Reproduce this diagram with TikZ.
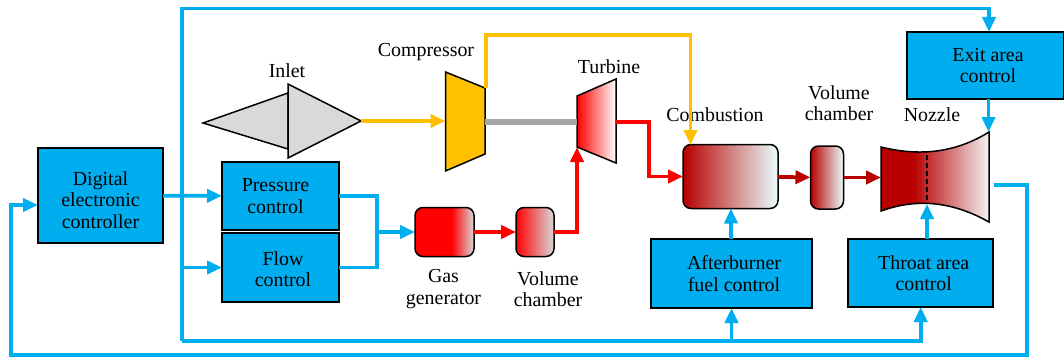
\documentclass[tikz,border=0pt]{standalone}
\usepackage{fontspec}
\setmainfont{Liberation Serif}
\usepackage{xcolor}
\usetikzlibrary{arrows.meta,calc,positioning}

\definecolor{ctrlblue}{HTML}{00AEEF}
\definecolor{airyellow}{HTML}{FFC000}
\definecolor{hotred}{HTML}{FF0000}
\definecolor{darkred}{HTML}{B80000}
\definecolor{shaftgray}{HTML}{A6A6A6}
\definecolor{inletgray}{HTML}{D9D9D9}

\pgfdeclarehorizontalshading{gasfade}{100bp}{color(0bp)=(hotred); color(25bp)=(hotred); color(56bp)=(hotred); color(75bp)=(inletgray); color(100bp)=(inletgray)}
\pgfdeclarehorizontalshading{chamberfade}{100bp}{color(0bp)=(hotred); color(25bp)=(hotred); color(75bp)=(inletgray); color(100bp)=(inletgray)}
\pgfdeclarehorizontalshading{turbinefade}{100bp}{color(0bp)=(hotred); color(25bp)=(hotred); color(75bp)=(white); color(100bp)=(white)}
\pgfdeclarehorizontalshading{burnfade}{100bp}{color(0bp)=(darkred); color(25bp)=(darkred); color(75bp)=(black!3!cyan!8!white); color(100bp)=(black!3!cyan!8!white)}
\pgfdeclarehorizontalshading{nozzlefade}{100bp}{color(0bp)=(darkred); color(25bp)=(darkred); color(40bp)=(darkred); color(75bp)=(black!5!white); color(100bp)=(black!5!white)}

\tikzset{
  ctrlbox/.style={draw=black, line width=1.5pt, fill=ctrlblue, align=center, inner sep=0pt, outer sep=0pt},
  vessel/.style={draw=black, line width=1.5pt, rounded corners=8pt, inner sep=0pt, outer sep=0pt},
  part/.style={draw=black, line width=1.5pt, line join=miter},
  caption/.style={align=center, inner sep=0pt},
  flowtip/.style={-{Triangle[length=15pt,width=13pt]}},
  ctrlline/.style={draw=ctrlblue, line width=3.8pt},
  airline/.style={draw=airyellow, line width=3.8pt},
  hotline/.style={draw=hotred, line width=3.8pt},
  burnline/.style={draw=darkred, line width=3.8pt},
  every node/.append style={font=\fontsize{19.9}{21.5}\selectfont}
}

\begin{document}
\begin{tikzpicture}[x=1pt, y=-1pt]
  \useasboundingbox (0,0) rectangle (1064,361);

  % control boxes
  \node[ctrlbox, minimum width=125pt, minimum height=95pt] (digital) at (100.5,195.5) {\rule{0pt}{23pt}Digital\\electronic\\controller};
  \node[ctrlbox, minimum width=117pt, minimum height=68pt] (pressure) at (280.5,196) {\hspace*{-10pt}Pressure\\\hspace*{-10pt}control};
  \node[ctrlbox, minimum width=117pt, minimum height=69pt] (flow) at (280.5,267.5) {\rule{0pt}{17pt}\hspace*{5pt}Flow\\\hspace*{5pt}control};
  \node[ctrlbox, minimum width=157pt, minimum height=67pt] (exitarea) at (985.5,65.5) {\hspace*{5pt}Exit area\\\hspace*{5pt}control};
  \node[ctrlbox, minimum width=161pt, minimum height=69pt] (afterburner) at (731.5,273.5) {\hspace*{5pt}Afterburner\\\hspace*{5pt}fuel control};
  \node[ctrlbox, minimum width=145pt, minimum height=68pt] (throat) at (920.7,273) {\hspace*{6pt}Throat area\\\hspace*{6pt}control};

  % vessels
  \node[vessel, shading=gasfade, minimum width=59pt, minimum height=49pt] (gasgen) at (444.5,232) {};
  \node[vessel, shading=chamberfade, minimum width=38pt, minimum height=49pt] (volumeA) at (535,232) {};
  \node[vessel, shading=burnfade, minimum width=95pt, minimum height=64pt] (combustion) at (730.5,176.5) {};
  \node[vessel, shading=burnfade, minimum width=33pt, minimum height=63pt] (volumeB) at (827,177.5) {};

  % inlet cones
  \draw[part, fill=inletgray] (203,123) -- (288,93) -- (288,149) -- cycle;
  \draw[part, fill=inletgray] (288,84) -- (361,121) -- (288,158) -- cycle;

  % compressor, turbine, nozzle
  \draw[part, fill=airyellow] (445.5,72) -- (485,88) -- (485,154) -- (445.5,171) -- cycle;
  \draw[part, shading=turbinefade] (577,96) -- (616,79) -- (616,163) -- (577,147) -- cycle;
  \draw[part, shading=nozzlefade] (881,147) .. controls (925,158) and (960,150) .. (989,132) -- (989,222) .. controls (955,203) and (920,197) .. (881,211) -- cycle;
  \draw[black, line width=1.5pt, dash pattern=on 5pt off 3pt] (927,155) -- (927,203);

  % labels
  \node[caption] (inletlabel) at (287,71) {Inlet};
  \node[caption] (compressorlabel) at (426,52) {Compressor};
  \node[caption] (turbinelabel) at (609,67) {Turbine};
  \node[caption] (combustionlabel) at (715,115) {Combustion};
  \node[caption] (volumeBlabel) at (839,103) {Volume\\chamber};
  \node[caption] (nozzlelabel) at (932,115) {Nozzle};
  \node[caption] (gaslabel) at (443.5,289) {Gas\\generator};
  \node[caption] (volumeAlabel) at (548,289) {Volume\\chamber};

  % junctions and free ends
  \coordinate (inletOut) at (361,121);
  \coordinate (compIn) at (445.5,121);
  \coordinate (compTop) at (486,88);
  \coordinate (compShaft) at (485,122);
  \coordinate (turbShaft) at (577,122);
  \coordinate (turbIn) at (577,147);
  \coordinate (turbOut) at (616,122);
  \coordinate (turbDrop) at (649,122);
  \coordinate (airTop) at (486,35);
  \coordinate (airIn) at (690.5,145);
  \coordinate (gasJoin) at (377,232);
  \coordinate (nozzleIn) at (881,177.5);
  \coordinate (nozzleTop) at (988.5,132);
  \coordinate (exitOut) at (988.5,99);
  \coordinate (exitIn) at (989,32);
  \coordinate (throatOut) at (927,239);
  \coordinate (nozzleThroat) at (927,204);
  \coordinate (railNW) at (182,8.5);
  \coordinate (railSW) at (182,341);
  \coordinate (railFlow) at (182,267.5);
  \coordinate (railBurn) at (731.5,341);
  \coordinate (railThroat) at (920.7,341);
  \coordinate (nozzleOut) at (994,185);
  \coordinate (backSE) at (1027,355);
  \coordinate (backSW) at (11,355);
  \coordinate (digitalIn) at (38,205);

  % air and shaft
  \draw[airline, flowtip] (inletOut) -- (compIn);
  \draw[draw=shaftgray, line width=6pt] (compShaft) -- (turbShaft);
  \draw[airline, flowtip] (compTop) -- (airTop) -| (airIn);

  % hot gas
  \draw[hotline, flowtip] (gasgen) -- (volumeA);
  \draw[hotline, flowtip] (volumeA.east) -| (turbIn);
  \draw[hotline, flowtip] (turbOut) -- (turbDrop) |- (combustion.west);
  \draw[burnline, flowtip] (combustion) -- (volumeB);
  \draw[burnline, flowtip] (volumeB) -- (nozzleIn);

  % control signals
  \draw[ctrlline, flowtip] (digital) -- (pressure);
  \draw[ctrlline, flowtip] (railFlow) -- (flow);
  \draw[ctrlline] (pressure.east) -| (gasJoin);
  \draw[ctrlline] (flow.east) -| (gasJoin);
  \draw[ctrlline, flowtip] (gasJoin) -- (gasgen);
  \draw[ctrlline, flowtip] (railSW) -- (railNW) -| (exitIn);
  \draw[ctrlline, flowtip] (exitOut) -- (nozzleTop);
  \draw[ctrlline, flowtip] (railSW) -- (railBurn) -- (afterburner);
  \draw[ctrlline, flowtip] (railBurn) -- (railThroat) -- (throat);
  \draw[ctrlline, flowtip] (afterburner) -- (combustion);
  \draw[ctrlline, flowtip] (throatOut) -- (nozzleThroat);
  \draw[ctrlline, flowtip] (nozzleOut) -| (backSE) -- (backSW) |- (digitalIn);
\end{tikzpicture}
\end{document}
